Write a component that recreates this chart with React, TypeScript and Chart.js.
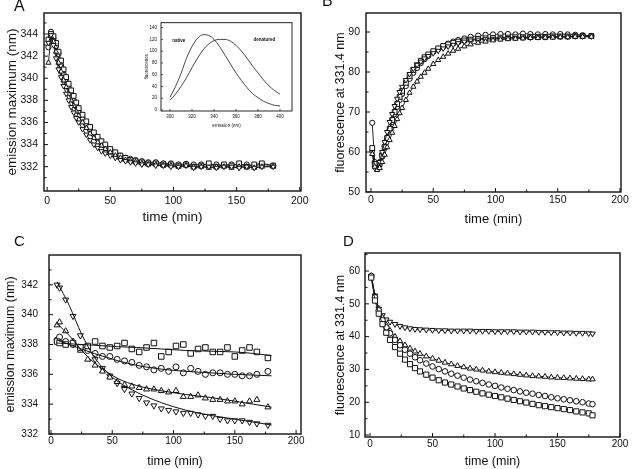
import React, { useEffect, useRef } from "react";
import { Chart, registerables } from "chart.js";

Chart.register(...registerables);

const FONT = "'Liberation Sans', Arial, Helvetica, sans-serif";
const INK = "#111111";

// ---------------- Panel A : emission maximum vs time ----------------
const timeA = [1, 3, 5, 7, 9, 11, 13, 15, 17, 19, 21, 23, 25, 28, 31, 34, 37, 40, 43, 46, 50, 54, 58, 62, 66, 70, 75, 80, 86, 92, 98, 104, 110, 116, 122, 128, 134, 140, 146, 152, 158, 164, 170, 179];
const emA_circle = [342.8, 344.2, 343.6, 342.9, 342.2, 341.2, 340.4, 339.8, 339.2, 338.6,
  338.0, 337.5, 337.0, 336.4, 335.8, 335.3, 334.9, 334.5, 334.1, 333.8,
  333.5, 333.2, 333.0, 332.8, 332.7, 332.6, 332.5, 332.4, 332.4, 332.3,
  332.3, 332.2, 332.25, 332.2, 332.2, 332.15, 332.2, 332.1, 332.2, 332.15,
  332.2, 332.1, 332.2, 332.1];
const emA_square = [343.5, 344.0, 343.8, 343.2, 342.4, 341.6, 340.8, 340.1, 339.5, 338.9,
  338.4, 337.8, 337.3, 336.7, 336.1, 335.6, 335.1, 334.7, 334.3, 334.0,
  333.6, 333.3, 333.0, 332.8, 332.6, 332.5, 332.4, 332.3, 332.3, 332.2,
  332.2, 332.1, 332.2, 332.0, 332.1, 332.3, 332.0, 332.2, 332.1, 332.3,
  332.0, 332.2, 332.3, 332.1];
const emA_up = [341.4, 343.8, 343.3, 342.4, 341.4, 340.6, 339.8, 339.2, 338.6, 338.0,
  337.5, 337.0, 336.6, 336.0, 335.5, 335.0, 334.6, 334.2, 333.9, 333.6,
  333.3, 333.0, 332.8, 332.6, 332.5, 332.4, 332.3, 332.2, 332.2, 332.1,
  332.1, 332.0, 332.1, 332.0, 332.0, 331.9, 332.0, 332.0, 331.9, 332.0,
  332.0, 331.9, 332.0, 332.0];
const emA_down = [343.2, 343.9, 343.0, 341.8, 340.8, 340.1, 339.3, 338.6, 338.0, 337.4,
  336.9, 336.4, 336.0, 335.4, 334.9, 334.4, 334.0, 333.7, 333.4, 333.2,
  333.0, 332.8, 332.6, 332.5, 332.4, 332.3, 332.2, 332.2, 332.1, 332.1,
  332.0, 332.0, 332.1, 331.9, 332.0, 332.0, 331.9, 332.0, 332.0, 331.9,
  332.0, 331.9, 332.0, 332.0];
const ticksA_x = [0, 50, 100, 150, 200];
const ticksA_y = [332, 334, 336, 338, 340, 342, 344];

// ---------------- Inset : spectra ----------------
const insetWavelength = [300, 305, 310, 315, 320, 325, 330, 335, 340, 345, 350, 355, 360, 365, 370, 375, 380, 385, 390, 395, 400];
const insetNative = [22, 40, 62, 88, 108, 122, 128, 127, 120, 108, 93, 78, 63, 50, 38, 28, 21, 15, 11, 8, 7];
const insetDenatured = [17, 27, 40, 55, 72, 88, 102, 112, 118, 120, 120, 117, 110, 100, 88, 75, 63, 51, 41, 33, 27];
const insetTicks_x = [300, 320, 340, 360, 380, 400];
const insetTicks_y = [0, 20, 40, 60, 80, 100, 120, 140];

// ---------------- Panel B : fluorescence vs time ----------------
const timeB = [1, 3, 5, 7, 9, 11, 13, 15, 17, 19, 21, 23, 25, 28, 31, 34, 37, 40, 43, 46, 50, 54, 58, 62, 66, 70, 75, 80, 86, 92, 98, 104, 110, 116, 122, 128, 134, 140, 146, 152, 158, 164, 170, 177];
const flB_circle = [67.3, 57.5, 56.5, 57.5, 59.5, 61.5, 63.5, 65.5, 67.5, 69.5,
  71.3, 73.0, 74.5, 76.5, 78.3, 79.8, 81.0, 82.2, 83.2, 84.0,
  85.0, 85.8, 86.5, 87.1, 87.6, 88.0, 88.4, 88.8, 89.1, 89.3,
  89.4, 89.5, 89.5, 89.4, 89.6, 89.5, 89.4, 89.5, 89.4, 89.5,
  89.4, 89.3, 89.2, 89.0];
const flB_square = [61.0, 57.0, 56.0, 57.0, 59.0, 61.2, 63.5, 65.8, 68.0, 70.0,
  72.0, 73.8, 75.3, 77.3, 79.0, 80.5, 81.7, 82.8, 83.7, 84.4,
  85.2, 85.9, 86.5, 86.9, 87.3, 87.6, 87.9, 88.1, 88.3, 88.4,
  88.5, 88.6, 88.6, 88.7, 88.7, 88.8, 88.8, 88.8, 88.9, 88.9,
  88.9, 89.0, 89.0, 89.0];
const flB_down = [60.0, 56.0, 55.8, 57.5, 60.0, 62.5, 65.0, 67.5, 69.5, 71.5,
  73.3, 75.0, 76.3, 78.0, 79.5, 80.8, 81.8, 82.6, 83.4, 84.0,
  84.7, 85.3, 85.9, 86.4, 86.8, 87.2, 87.6, 87.9, 88.1, 88.2,
  88.3, 88.4, 88.5, 88.5, 88.6, 88.6, 88.7, 88.7, 88.8, 88.8,
  88.8, 88.9, 88.9, 88.9];
const flB_up = [59.5, 56.3, 55.5, 56.0, 57.5, 59.3, 61.2, 63.0, 64.8, 66.5,
  68.2, 69.7, 71.0, 73.0, 74.8, 76.3, 77.6, 78.8, 79.8, 80.8,
  82.0, 83.0, 83.8, 84.6, 85.3, 85.8, 86.4, 86.9, 87.3, 87.6,
  87.9, 88.1, 88.2, 88.3, 88.4, 88.5, 88.5, 88.6, 88.6, 88.7,
  88.7, 88.8, 88.8, 88.8];
const ticksB_x = [0, 50, 100, 150, 200];
const ticksB_y = [50, 60, 70, 80, 90];

// ---------------- Panel C : emission maximum, markers + fits ----------------
const timeC = [5, 7, 12, 18, 24, 30, 36, 42, 48, 54, 60, 66, 72, 78, 84, 90, 96, 102, 108, 114, 120, 126, 132, 138, 144, 150, 156, 162, 168, 177];
const emC_square = [338.2, 338.1, 338.0, 338.1, 337.8, 337.9, 338.2, 337.9, 337.8, 337.9,
  338.1, 337.7, 337.5, 337.8, 338.1, 337.2, 337.5, 337.9, 338.0, 337.4,
  337.7, 337.8, 337.5, 337.5, 337.8, 337.2, 337.6, 337.8, 337.5, 337.1];
const emC_circle = [338.3, 338.5, 338.2, 338.0, 337.8, 337.6, 337.4, 337.2, 337.2, 337.0,
  336.9, 336.8, 336.6, 336.5, 336.3, 336.4, 336.2, 336.5, 336.1, 336.4,
  336.2, 336.0, 336.1, 336.1, 336.0, 336.0, 335.9, 335.9, 336.0, 336.2];
const emC_up = [339.3, 339.5, 338.9, 338.2, 337.6, 337.0, 336.6, 336.2, 335.8, 335.5,
  335.3, 335.2, 335.1, 335.0, 335.0, 334.9, 334.8, 334.9, 334.5, 334.5,
  334.6, 334.4, 334.3, 334.3, 334.2, 334.2, 334.0, 334.2, 334.3, 333.8];
const emC_down = [342.0, 341.8, 341.0, 339.9, 338.6, 337.7, 337.0, 336.4, 335.9, 335.4,
  335.0, 334.7, 334.4, 334.1, 333.9, 333.7, 333.6, 333.5, 333.4, 333.4,
  333.3, 333.2, 333.2, 333.0, 332.9, 332.9, 332.9, 332.8, 332.7, 332.6];
const fitTimeC = [5, 15, 25, 35, 45, 55, 70, 90, 110, 130, 150, 165, 180];
const fitC_square = [338.1, 338.05, 338.0, 337.95, 337.9, 337.85, 337.8, 337.7, 337.6, 337.55, 337.5, 337.4, 337.25];
const fitC_circle = [338.3, 338.0, 337.7, 337.4, 337.15, 336.9, 336.6, 336.35, 336.2, 336.1, 336.0, 335.95, 335.9];
const fitC_up = [339.4, 338.6, 337.6, 336.8, 336.2, 335.7, 335.25, 334.9, 334.65, 334.45, 334.2, 334.0, 333.8];
const fitC_down = [342.2, 340.6, 338.7, 337.2, 336.2, 335.5, 334.8, 334.1, 333.6, 333.25, 333.0, 332.8, 332.6];
const ticksC_x = [0, 50, 100, 150, 200];
const ticksC_y = [332, 334, 336, 338, 340, 342];

// ---------------- Panel D : fluorescence decay ----------------
const timeD = [1, 4, 7, 10, 13, 16, 20, 24, 28, 32, 36, 40, 45, 50, 55, 60, 65, 70, 75, 80, 85, 90, 95, 100, 105, 110, 115, 120, 125, 130, 135, 140, 145, 150, 155, 160, 165, 170, 175, 178];
const flD_down = [58.5, 52.5, 48.5, 46.5, 45.2, 44.5, 43.8, 43.2, 42.8, 42.5,
  42.3, 42.2, 42.1, 42.0, 41.9, 41.9, 41.8, 41.8, 41.8, 41.8,
  41.7, 41.7, 41.7, 41.6, 41.6, 41.6, 41.6, 41.5, 41.5, 41.5,
  41.4, 41.4, 41.3, 41.3, 41.2, 41.2, 41.1, 41.1, 41.0, 40.9];
const flD_up = [58.5, 52.3, 48.5, 45.8, 43.5, 41.8, 40.0, 38.6, 37.4, 36.4,
  35.5, 34.8, 34.0, 33.3, 32.7, 32.1, 31.6, 31.1, 30.7, 30.3,
  30.0, 29.7, 29.4, 29.2, 29.0, 28.8, 28.6, 28.4, 28.2, 28.0,
  27.9, 27.8, 27.6, 27.5, 27.4, 27.3, 27.2, 27.1, 27.0, 27.0];
const flD_circle = [58.5, 52.0, 48.0, 45.0, 42.8, 41.0, 39.0, 37.4, 36.0, 34.8,
  33.7, 32.8, 31.8, 30.9, 30.1, 29.4, 28.7, 28.1, 27.5, 26.9,
  26.4, 25.9, 25.4, 25.0, 24.5, 24.1, 23.7, 23.3, 22.9, 22.6,
  22.2, 21.9, 21.5, 21.2, 20.9, 20.6, 20.3, 20.0, 19.6, 19.4];
const flD_square = [58.0, 51.0, 47.0, 43.8, 41.2, 39.0, 36.8, 34.8, 33.0, 31.6,
  30.4, 29.4, 28.4, 27.5, 26.7, 26.0, 25.4, 24.8, 24.2, 23.7,
  23.2, 22.7, 22.3, 21.9, 21.5, 21.1, 20.7, 20.3, 19.9, 19.5,
  19.1, 18.8, 18.5, 18.2, 17.9, 17.6, 17.2, 16.9, 16.6, 16.0];
const ticksD_x = [0, 50, 100, 150, 200];
const ticksD_y = [10, 20, 30, 40, 50, 60];

// ---------------- helpers ----------------
function zip(xs: number[], ys: number[]) {
  return xs.map((x, i) => ({ x, y: ys[i] }));
}

type Shape = "circle" | "rect" | "up" | "down";

function markerSeries(label: string, shape: Shape, xs: number[], ys: number[], r: number, line: boolean) {
  const style = shape === "up" || shape === "down" ? "triangle" : shape;
  return {
    label,
    data: zip(xs, ys),
    showLine: line,
    borderColor: INK,
    borderWidth: 0.9,
    pointStyle: style,
    pointRotation: shape === "down" ? 180 : 0,
    pointRadius: shape === "rect" ? r * 1.3 : shape === "circle" ? r : r * 1.15,
    pointBorderWidth: 1,
    pointBorderColor: INK,
    pointBackgroundColor: "#ffffff",
    tension: 0,
  };
}

function curveSeries(label: string, xs: number[], ys: number[], width: number, color: string) {
  return {
    label,
    data: zip(xs, ys),
    showLine: true,
    borderColor: color,
    borderWidth: width,
    pointRadius: 0,
    cubicInterpolationMode: "monotone",
  };
}

const decorPlugin = {
  id: "decor",
  afterDraw(chart: any, _args: any, o: any) {
    if (!o || !o.enabled) return;
    const { ctx, chartArea: a } = chart;
    const xs = chart.scales.x;
    const ys = chart.scales.y;
    ctx.save();
    ctx.strokeStyle = INK;
    ctx.lineWidth = o.frameWidth;
    ctx.strokeRect(a.left, a.top, a.right - a.left, a.bottom - a.top);
    ctx.lineWidth = o.tickWidth;
    ctx.beginPath();
    const xt = (vals: number[], len: number) => {
      for (const v of vals) {
        const p = xs.getPixelForValue(v);
        if (p < a.left - 0.5 || p > a.right + 0.5) continue;
        ctx.moveTo(p, a.bottom);
        ctx.lineTo(p, a.bottom - len);
      }
    };
    const yt = (vals: number[], len: number) => {
      for (const v of vals) {
        const p = ys.getPixelForValue(v);
        if (p < a.top - 0.5 || p > a.bottom + 0.5) continue;
        ctx.moveTo(a.left, p);
        ctx.lineTo(a.left + len, p);
      }
    };
    xt(o.xMajor, o.majorLen);
    xt(o.xMinor, o.minorLen);
    yt(o.yMajor, o.majorLen);
    yt(o.yMinor, o.minorLen);
    ctx.stroke();
    ctx.fillStyle = INK;
    if (o.letter) {
      ctx.font = `${o.letterSize}px ${FONT}`;
      ctx.textAlign = "left";
      ctx.textBaseline = "alphabetic";
      ctx.fillText(o.letter, o.letterX, o.letterY);
    }
    if (o.notes) {
      for (const n of o.notes) {
        ctx.font = `bold ${n.size}px ${FONT}`;
        ctx.textAlign = "left";
        ctx.textBaseline = "middle";
        ctx.fillText(n.text, xs.getPixelForValue(n.x), ys.getPixelForValue(n.y));
      }
    }
    ctx.restore();
  },
};
Chart.register(decorPlugin);

function range(a: number, b: number, s: number) {
  const out: number[] = [];
  for (let v = a; v <= b + 1e-9; v += s) out.push(v);
  return out;
}

type Spec = {
  x: number; y: number; w: number; h: number;
  area: { left: number; top: number; right: number; bottom: number };
  xMin: number; xMax: number; yMin: number; yMax: number;
  xTicks: number[]; yTicks: number[];
  xMinor: number[]; yMinor: number[];
  xTitle: string; yTitle: string;
  titleSize: number; yTitleSize: number; tickSize: number;
  yTitlePad: number; xTitlePad: number; xTickPad: number; yTickPad: number;
  frameWidth: number; tickWidth: number; majorLen: number; minorLen: number;
  letter?: string; letterX?: number; letterY?: number; letterSize?: number;
  notes?: { text: string; x: number; y: number; size: number }[];
  datasets: any[];
};

function buildConfig(s: Spec): any {
  const tickFont = { family: FONT, size: s.tickSize };
  return {
    type: "scatter",
    data: { datasets: s.datasets },
    options: {
      responsive: false,
      animation: false,
      devicePixelRatio: 1,
      events: [],
      layout: { padding: { left: 0, top: s.area.top, right: s.w - s.area.right, bottom: 0 } },
      plugins: {
        legend: { display: false },
        tooltip: { enabled: false },
        decor: {
          enabled: true,
          frameWidth: s.frameWidth, tickWidth: s.tickWidth,
          majorLen: s.majorLen, minorLen: s.minorLen,
          xMajor: s.xTicks, xMinor: s.xMinor, yMajor: s.yTicks, yMinor: s.yMinor,
          letter: s.letter, letterX: s.letterX, letterY: s.letterY, letterSize: s.letterSize,
          notes: s.notes,
        },
      },
      scales: {
        x: {
          type: "linear",
          position: "bottom",
          min: s.xMin,
          max: s.xMax,
          afterBuildTicks: (sc: any) => { sc.ticks = s.xTicks.map((v) => ({ value: v })); },
          afterFit: (sc: any) => { sc.height = s.h - s.area.bottom; },
          grid: { display: false, drawTicks: false },
          border: { display: false },
          ticks: { padding: s.xTickPad, font: tickFont, color: INK, maxRotation: 0, autoSkip: false },
          title: {
            display: true, text: s.xTitle, color: INK,
            font: { family: FONT, size: s.titleSize },
            padding: { top: 0, bottom: s.xTitlePad },
          },
        },
        y: {
          type: "linear",
          position: "left",
          min: s.yMin,
          max: s.yMax,
          afterBuildTicks: (sc: any) => { sc.ticks = s.yTicks.map((v) => ({ value: v })); },
          afterFit: (sc: any) => { sc.width = s.area.left; },
          grid: { display: false, drawTicks: false },
          border: { display: false },
          ticks: { padding: s.yTickPad, font: tickFont, color: INK, autoSkip: false },
          title: {
            display: true, text: s.yTitle, color: INK,
            font: { family: FONT, size: s.yTitleSize },
            padding: { top: s.yTitlePad, bottom: 0 },
          },
        },
      },
    },
  };
}

const specA: Spec = {
  x: 0, y: 0, w: 316, h: 235,
  area: { left: 44, top: 13, right: 301, bottom: 191 },
  xMin: -2.5, xMax: 201, yMin: 329.8, yMax: 345.9,
  xTicks: ticksA_x, yTicks: ticksA_y,
  xMinor: [25, 75, 125, 175], yMinor: range(331, 345, 2),
  xTitle: "time (min)", yTitle: "emission maximum (nm)",
  titleSize: 13.5, yTitleSize: 13.5, tickSize: 10.5,
  yTitlePad: 4, xTitlePad: 10, xTickPad: 4, yTickPad: 6,
  frameWidth: 1.4, tickWidth: 1, majorLen: 4, minorLen: 2.5,
  letter: "A", letterX: 14, letterY: 11, letterSize: 16,
  datasets: [
    markerSeries("down", "down", timeA, emA_down, 2.6, true),
    markerSeries("up", "up", timeA, emA_up, 2.6, true),
    markerSeries("square", "rect", timeA, emA_square, 2.6, true),
    markerSeries("circle", "circle", timeA, emA_circle, 2.6, true),
  ],
};

const specInset: Spec = {
  x: 138, y: 16, w: 160, h: 118,
  area: { left: 23, top: 6, right: 154, bottom: 95 },
  xMin: 291.8, xMax: 410.9, yMin: -1.7, yMax: 148.4,
  xTicks: insetTicks_x, yTicks: insetTicks_y,
  xMinor: [], yMinor: [],
  xTitle: "emission (nm)", yTitle: "fluorescence",
  titleSize: 4.5, yTitleSize: 4.5, tickSize: 4.5,
  yTitlePad: 6, xTitlePad: 6, xTickPad: 3, yTickPad: 4,
  frameWidth: 0.9, tickWidth: 0.7, majorLen: 2, minorLen: 1,
  notes: [
    { text: "native", x: 302, y: 117, size: 4.5 },
    { text: "denatured", x: 376, y: 120, size: 4.5 },
  ],
  datasets: [
    curveSeries("native", insetWavelength, insetNative, 0.9, "#333333"),
    curveSeries("denatured", insetWavelength, insetDenatured, 0.9, "#333333"),
  ],
};

const specB: Spec = {
  x: 316, y: 0, w: 316, h: 235,
  area: { left: 50, top: 13, right: 305, bottom: 192 },
  xMin: -4, xMax: 200.8, yMin: 50, yMax: 94.75,
  xTicks: ticksB_x, yTicks: ticksB_y,
  xMinor: [25, 75, 125, 175], yMinor: [55, 65, 75, 85],
  xTitle: "time (min)", yTitle: "fluorescence at 331.4 nm",
  titleSize: 13, yTitleSize: 12.5, tickSize: 10.5,
  yTitlePad: 17, xTitlePad: 8, xTickPad: 2, yTickPad: 6,
  frameWidth: 1.4, tickWidth: 1, majorLen: 4, minorLen: 2.5,
  letter: "B", letterX: 6, letterY: 6, letterSize: 16,
  datasets: [
    markerSeries("up", "up", timeB, flB_up, 2.6, true),
    markerSeries("down", "down", timeB, flB_down, 2.6, true),
    markerSeries("square", "rect", timeB, flB_square, 2.6, true),
    markerSeries("circle", "circle", timeB, flB_circle, 2.6, true),
  ],
};

const specC: Spec = {
  x: 0, y: 235, w: 316, h: 234,
  area: { left: 49, top: 20, right: 301, bottom: 199 },
  xMin: -1.6, xMax: 204, yMin: 332, yMax: 344,
  xTicks: ticksC_x, yTicks: ticksC_y,
  xMinor: [25, 75, 125, 175], yMinor: range(333, 343, 2),
  xTitle: "time (min)", yTitle: "emission maximum (nm)",
  titleSize: 12.5, yTitleSize: 12.5, tickSize: 10,
  yTitlePad: 3, xTitlePad: 0, xTickPad: 1, yTickPad: 11,
  frameWidth: 1.4, tickWidth: 1, majorLen: 4, minorLen: 2.5,
  letter: "C", letterX: 14, letterY: 11, letterSize: 15,
  datasets: [
    curveSeries("fit square", fitTimeC, fitC_square, 1, INK),
    curveSeries("fit circle", fitTimeC, fitC_circle, 1, INK),
    curveSeries("fit up", fitTimeC, fitC_up, 1, INK),
    curveSeries("fit down", fitTimeC, fitC_down, 1, INK),
    markerSeries("square", "rect", timeC, emC_square, 3, false),
    markerSeries("circle", "circle", timeC, emC_circle, 3, false),
    markerSeries("up", "up", timeC, emC_up, 3, false),
    markerSeries("down", "down", timeC, emC_down, 3, false),
  ],
};

const specD: Spec = {
  x: 316, y: 235, w: 316, h: 234,
  area: { left: 49, top: 18, right: 304, bottom: 202 },
  xMin: -4, xMax: 200, yMin: 9.4, yMax: 65.5,
  xTicks: ticksD_x, yTicks: ticksD_y,
  xMinor: [25, 75, 125, 175], yMinor: [15, 25, 35, 45, 55, 65],
  xTitle: "time (min)", yTitle: "fluorescence at 331.4 nm",
  titleSize: 12.5, yTitleSize: 12.5, tickSize: 10,
  yTitlePad: 17, xTitlePad: 0, xTickPad: 1, yTickPad: 5,
  frameWidth: 1.4, tickWidth: 1, majorLen: 4, minorLen: 2.5,
  letter: "D", letterX: 27, letterY: 11, letterSize: 15,
  datasets: [
    markerSeries("square", "rect", timeD, flD_square, 2.8, true),
    markerSeries("circle", "circle", timeD, flD_circle, 2.8, true),
    markerSeries("up", "up", timeD, flD_up, 2.8, true),
    markerSeries("down", "down", timeD, flD_down, 2.8, true),
  ],
};

function Panel({ spec }: { spec: Spec }) {
  const ref = useRef<HTMLCanvasElement | null>(null);
  useEffect(() => {
    if (!ref.current) return;
    const chart = new Chart(ref.current, buildConfig(spec));
    return () => chart.destroy();
  }, [spec]);
  return (
    <canvas
      ref={ref}
      width={spec.w}
      height={spec.h}
      style={{ position: "absolute", left: spec.x, top: spec.y, width: spec.w, height: spec.h, display: "block" }}
    />
  );
}

export default function App() {
  return (
    <div style={{ position: "fixed", left: 0, top: 0, width: 632, height: 469, background: "#ffffff", overflow: "hidden" }}>
      <Panel spec={specA} />
      <Panel spec={specB} />
      <Panel spec={specC} />
      <Panel spec={specD} />
      <Panel spec={specInset} />
    </div>
  );
}
